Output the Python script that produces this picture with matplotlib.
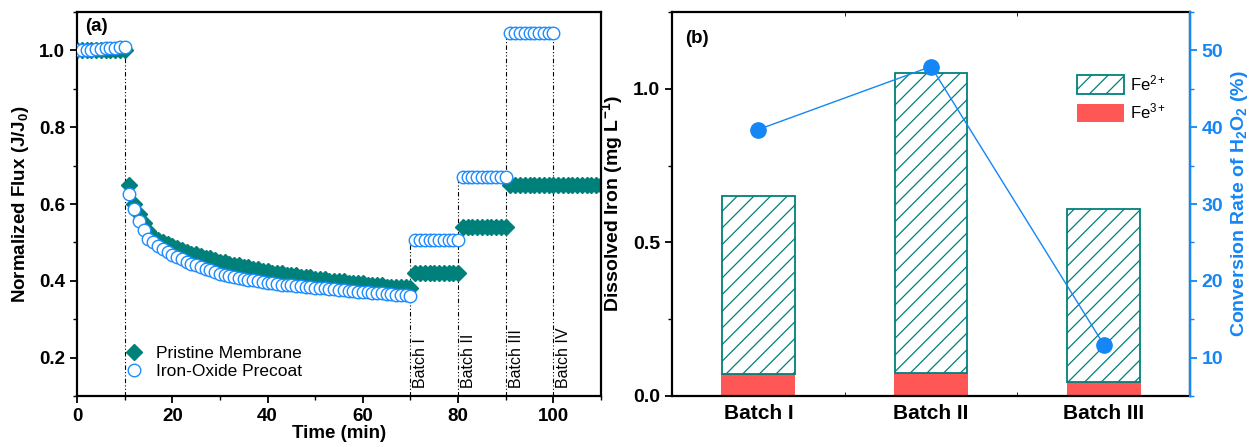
import numpy as np
import matplotlib
matplotlib.use("Agg")
import matplotlib.pyplot as plt
from matplotlib.ticker import MultipleLocator, FixedLocator

plt.rcParams['font.family'] = ['Liberation Sans', 'DejaVu Sans']
plt.rcParams['mathtext.fontset'] = 'custom'
plt.rcParams['mathtext.rm'] = 'Liberation Sans'
plt.rcParams['mathtext.bf'] = 'Liberation Sans:bold'
plt.rcParams['mathtext.it'] = 'Liberation Sans:italic'
plt.rcParams['hatch.linewidth'] = 0.9

# ---------------- Panel (a) data ----------------
time_initial = np.arange(0, 11)
pristine_initial = [1.0, 1.0, 1.0, 1.0, 1.0, 1.0, 1.0, 1.0, 1.0, 1.0, 1.0]
precoat_initial = [1.0, 1.0, 1.0, 1.002, 1.003, 1.004, 1.005, 1.005, 1.006, 1.008, 1.01]

time_decay = np.arange(11, 71)
pristine_decay = [0.65, 0.60, 0.575, 0.55, 0.53, 0.515, 0.505, 0.50, 0.495, 0.49,
                  0.485, 0.48, 0.475, 0.47, 0.47, 0.465, 0.46, 0.46, 0.455, 0.45,
                  0.45, 0.445, 0.44, 0.44, 0.435, 0.435, 0.43, 0.43, 0.425, 0.425,
                  0.42, 0.42, 0.42, 0.415, 0.415, 0.415, 0.41, 0.41, 0.41, 0.405,
                  0.405, 0.405, 0.40, 0.40, 0.40, 0.40, 0.395, 0.395, 0.395, 0.395,
                  0.39, 0.39, 0.39, 0.39, 0.385, 0.385, 0.385, 0.385, 0.385, 0.38]
precoat_decay = [0.627, 0.586, 0.556, 0.531, 0.51, 0.50, 0.49, 0.482, 0.475, 0.468,
                 0.462, 0.456, 0.45, 0.445, 0.44, 0.435, 0.431, 0.427, 0.423, 0.419,
                 0.415, 0.412, 0.409, 0.407, 0.405, 0.403, 0.401, 0.399, 0.397, 0.395,
                 0.393, 0.391, 0.390, 0.389, 0.388, 0.387, 0.386, 0.385, 0.384, 0.382,
                 0.381, 0.380, 0.379, 0.378, 0.377, 0.376, 0.374, 0.373, 0.372, 0.371,
                 0.370, 0.369, 0.368, 0.367, 0.366, 0.365, 0.364, 0.363, 0.362, 0.361]

time_batch1 = np.arange(71, 81)
time_batch2 = np.arange(81, 91)
time_batch3_pristine = np.arange(91, 111)
time_batch3_precoat = np.arange(91, 101)
pristine_batch1 = [0.42] * 10
pristine_batch2 = [0.54] * 10
pristine_batch3 = [0.65] * 20
precoat_batch1 = [0.505] * 10
precoat_batch2 = [0.67] * 10
precoat_batch3 = [1.045] * 10

marker_lines_x = [10, 70, 80, 90, 100]
marker_lines_top = [1.0, 0.505, 0.67, 1.045, 1.045]
batch_text_x = [70, 80, 90, 100]
batch_text = ["Batch I", "Batch II", "Batch III", "Batch IV"]

# ---------------- Panel (b) data ----------------
batches = ["Batch I", "Batch II", "Batch III"]
fe_total = [0.65, 1.05, 0.61]
fe3 = [0.073, 0.075, 0.045]
fe2 = [t - f for t, f in zip(fe_total, fe3)]
conversion = [39.7, 47.9, 11.7]

teal = '#00807A'
blue = '#1486F5'
circ_blue = '#1E8CFF'
red = '#FF5656'

fig = plt.figure(figsize=(12.54, 4.47), dpi=100)
ax1 = fig.add_axes([77/1254, 51/447, 524/1254, 384/447])
ax2 = fig.add_axes([672/1254, 51/447, 518/1254, 384/447])
ax3 = ax2.twinx()

# ----- panel a -----
t_pristine = np.concatenate([time_initial, time_decay, time_batch1, time_batch2, time_batch3_pristine])
y_pristine = pristine_initial + pristine_decay + pristine_batch1 + pristine_batch2 + pristine_batch3
t_precoat = np.concatenate([time_initial, time_decay, time_batch1, time_batch2, time_batch3_precoat])
y_precoat = precoat_initial + precoat_decay + precoat_batch1 + precoat_batch2 + precoat_batch3

for x, top in zip(marker_lines_x, marker_lines_top):
    ax1.plot([x, x], [0.1, top], color='black', lw=0.8,
             linestyle=(0, (4, 2, 1, 2, 1, 2)), zorder=1)

ax1.plot(t_pristine, y_pristine, linestyle='none', marker='D', markersize=8.5,
         color=teal, markeredgecolor=teal, label='Pristine Membrane', zorder=2, clip_on=True)
ax1.plot(t_precoat, y_precoat, linestyle='none', marker='o', markersize=9,
         markerfacecolor='white', markeredgecolor=circ_blue, markeredgewidth=1.0,
         label='Iron-Oxide Precoat', zorder=3, clip_on=True)

for x, s in zip(batch_text_x, batch_text):
    ax1.text(x + 0.6, 0.12, s, rotation=90, ha='left', va='bottom', fontsize=11.5)

ax1.set_xlim(0, 110)
ax1.set_ylim(0.1, 1.1)
ax1.xaxis.set_major_locator(MultipleLocator(20))
ax1.xaxis.set_minor_locator(MultipleLocator(10))
ax1.yaxis.set_major_locator(MultipleLocator(0.2))
ax1.yaxis.set_minor_locator(MultipleLocator(0.1))
ax1.set_yticks([0.2, 0.4, 0.6, 0.8, 1.0])
ax1.set_yticklabels(['0.2', '0.4', '0.6', '0.8', '1.0'])
ax1.tick_params(axis='both', which='major', direction='out', length=5, width=1.3,
                labelsize=13.5)
ax1.tick_params(axis='both', which='minor', direction='out', length=3, width=1.0)
for lab in ax1.get_xticklabels() + ax1.get_yticklabels():
    lab.set_fontweight('bold')
for sp in ax1.spines.values():
    sp.set_linewidth(1.6)
ax1.set_xlabel('Time (min)', fontsize=13.5, fontweight='bold', labelpad=0)
ax1.set_ylabel(r'Normalized Flux (J/J$_\mathbf{0}$)', fontsize=13.5, fontweight='bold', labelpad=6)
ax1.text(0.015, 0.985, '(a)', transform=ax1.transAxes, fontsize=13.5, fontweight='bold',
         ha='left', va='top')
ax1.legend(loc='lower left', bbox_to_anchor=(0.075, 0.025), frameon=False, fontsize=12.5,
           handletextpad=0.7, labelspacing=0.2, borderaxespad=0, handlelength=1.2)

# ----- panel b -----
xpos = np.arange(1, len(batches) + 1)
ax2.bar(xpos, fe3, width=0.43, color=red, edgecolor=red, linewidth=0, label=r'Fe$^{3+}$', zorder=2)
ax2.bar(xpos, fe2, width=0.42, bottom=fe3, facecolor='white', edgecolor=teal, hatch='//',
        linewidth=1.3, label=r'Fe$^{2+}$', zorder=2)
ax2.set_xlim(0.5, 3.5)
ax2.set_ylim(0, 1.25)
ax2.set_xticks(xpos)
ax2.set_xticklabels(batches, fontsize=15, fontweight='bold')
ax2.xaxis.set_minor_locator(FixedLocator([1.5, 2.5]))
ax2.tick_params(axis='x', which='major', length=0, pad=6)
ax2.tick_params(axis='x', which='minor', direction='in', length=3, top=True, bottom=True)
ax2.yaxis.set_major_locator(MultipleLocator(0.5))
ax2.yaxis.set_minor_locator(MultipleLocator(0.25))
ax2.tick_params(axis='y', which='major', direction='out', length=5, width=1.3, labelsize=14)
ax2.tick_params(axis='y', which='minor', direction='out', length=3, width=1.0)
for lab in ax2.get_yticklabels():
    lab.set_fontweight('bold')
ax2.set_ylabel(r'Dissolved Iron (mg L$^\mathbf{-1}$)', fontsize=14, fontweight='bold', labelpad=6)
ax2.text(0.025, 0.93, '(b)', transform=ax2.transAxes, fontsize=13.5, fontweight='bold',
         ha='left', va='center')
for sp in ax2.spines.values():
    sp.set_linewidth(1.6)

h, l = ax2.get_legend_handles_labels()
ax2.legend(h[::-1], l[::-1], loc='upper left', bbox_to_anchor=(0.782, 0.84), frameon=False,
           fontsize=12, handlelength=2.8, handleheight=1.35, labelspacing=0.45,
           handletextpad=0.4, borderaxespad=0, borderpad=0)

ax3.plot(xpos, conversion, color=blue, lw=1.0, marker='o', markersize=11,
         markerfacecolor=blue, markeredgecolor=blue, zorder=5)
ax3.set_ylim(5, 55)
ax3.yaxis.set_major_locator(MultipleLocator(10))
ax3.yaxis.set_minor_locator(MultipleLocator(5))
ax3.set_yticks([10, 20, 30, 40, 50])
ax3.tick_params(axis='y', which='major', direction='out', length=5, width=1.3,
                labelsize=14, colors=blue)
ax3.tick_params(axis='y', which='minor', direction='out', length=3, width=1.0, colors=blue)
for lab in ax3.get_yticklabels():
    lab.set_fontweight('bold')
ax3.spines['right'].set_color(blue)
ax3.spines['right'].set_linewidth(1.6)
for k in ['left', 'top', 'bottom']:
    ax3.spines[k].set_visible(False)
ax3.set_ylabel(r'Conversion Rate of H$_\mathbf{2}$O$_\mathbf{2}$ (%)', fontsize=14,
               fontweight='bold', color=blue, labelpad=4)

fig.savefig('out.png', dpi=100)
